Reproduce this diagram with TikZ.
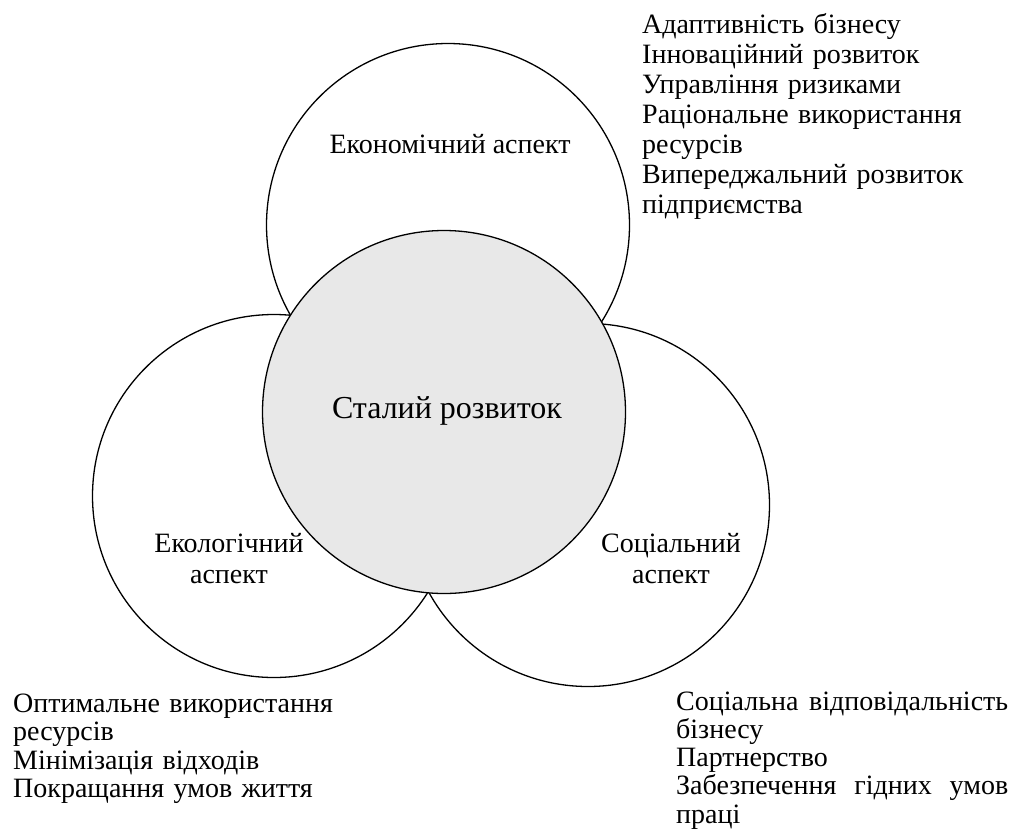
\documentclass[tikz,border=0pt]{standalone}
\usepackage{fontspec}
\setmainfont{Liberation Serif}
\definecolor{coregray}{HTML}{E8E8E8}

\begin{document}
\begin{tikzpicture}[x=1pt,y=-1pt,
  aspect/.style={circle,draw,line width=1.3pt,minimum size=363pt,inner sep=0pt},
  core/.style={aspect,fill=coregray},
  lbl/.style={align=center,anchor=base,inner sep=0pt,font=\fontsize{28}{31}\selectfont},
  lst/.style={align=left,anchor=base west,inner sep=0pt,font=\fontsize{28}{30}\selectfont}]
  \useasboundingbox (0,0) rectangle (1011,836);
  % Aspects
  \node[aspect] (econ) at (448,225) {};
  \node[aspect] (ecol) at (274,496) {};
  \node[aspect] (soc)  at (588,505) {};
  % Centre
  \node[core] (sust) at (444,412) {};
  \node[lbl,font=\fontsize{32}{34}\selectfont] (sustt) at (447,418) {Сталий розвиток};
  \node[lbl] (econt) at (450,153) {Економічний аспект};
  % (base of a two-line label is its last line)
  \node[lbl] (ecolt) at (229,583) {Екологічний\\аспект};
  \node[lbl] (soct)  at (671,583) {Соціальний\\аспект};
  % Lists
  \node[lst,text width=365pt] (econl) at (642,33) {Адаптивність бізнесу\\Інноваційний розвиток\\Управління ризиками\\Раціональне використання\\ресурсів\\Випереджальний розвиток\\підприємства};
  \node[lst,text width=340pt,font=\fontsize{28}{28.5}\selectfont] (ecoll) at (13,712) {Оптимальне використання\\ресурсів\\Мінімізація відходів\\Покращання умов життя};
  \node[lst,text width=332pt,font=\fontsize{28}{28.3}\selectfont] (socl) at (676,710) {Соціальна\hfill відповідальність\\бізнесу\\Партнерство\\Забезпечення\hfill гідних\hfill умов\\праці};
\end{tikzpicture}
\end{document}
